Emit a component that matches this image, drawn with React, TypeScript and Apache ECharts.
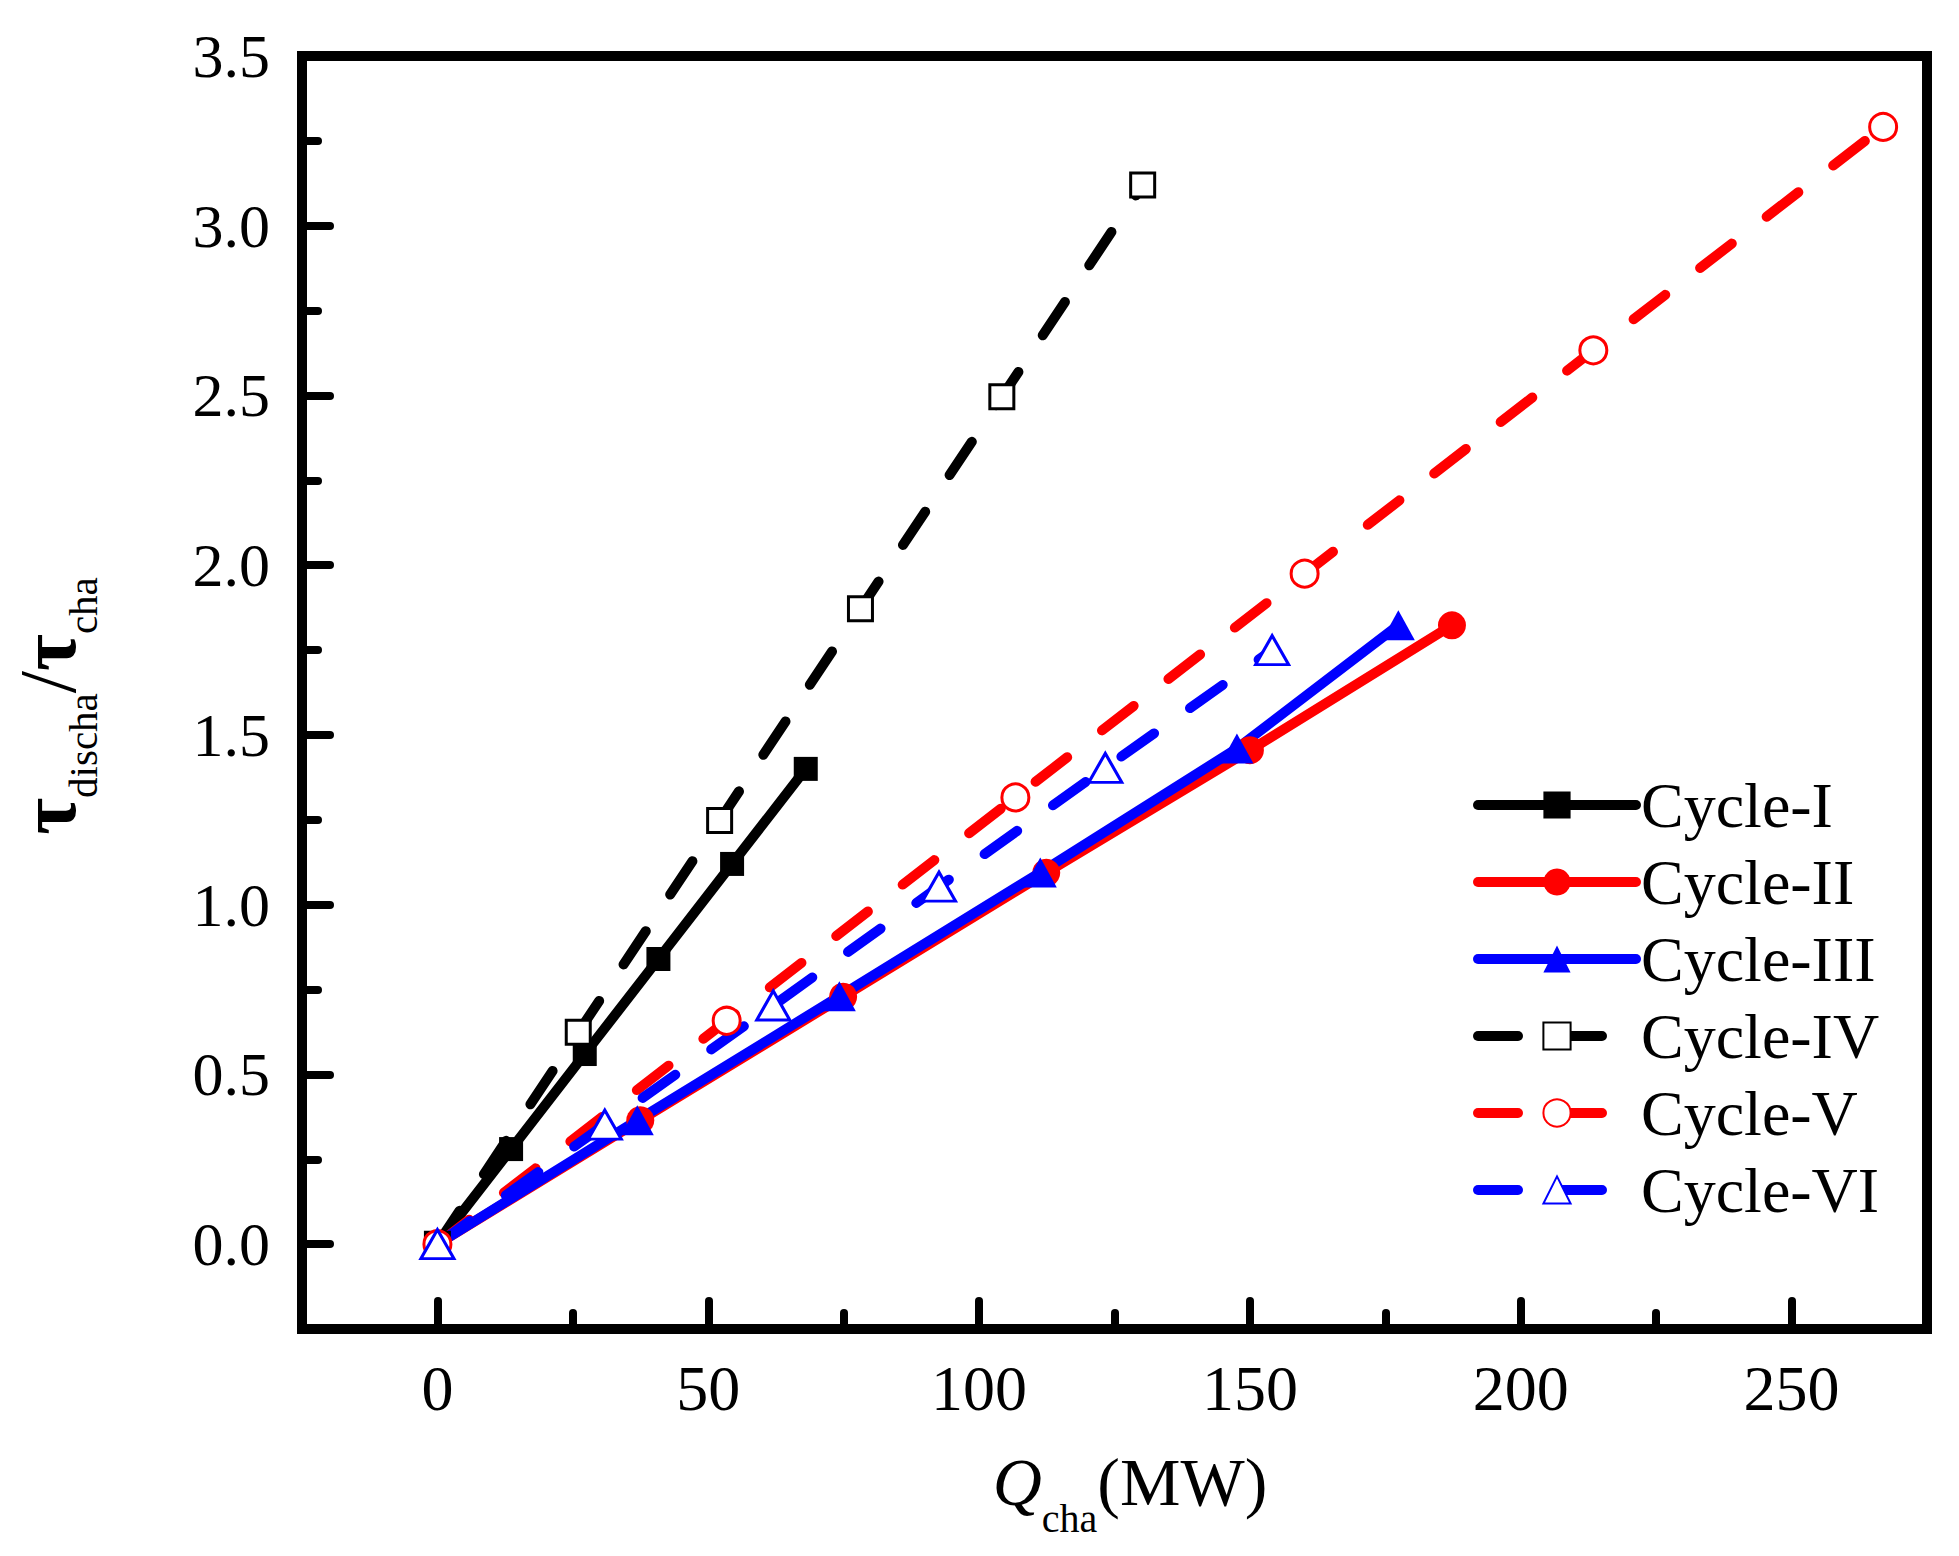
import { useEffect, useRef } from "react";
import * as echarts from "echarts";

const FONT = '"Liberation Serif", "Times New Roman", serif';

const cycleNames = ["Cycle-I", "Cycle-II", "Cycle-III", "Cycle-IV", "Cycle-V", "Cycle-VI"];

// Q_cha (MW) and tau_discha/tau_cha for each cycle
const cycle1X = [0, 13.6, 27.2, 40.8, 54.4, 68.0];
const cycle1Y = [0, 0.28, 0.56, 0.84, 1.12, 1.4];
const cycle2X = [0, 37.45, 74.9, 112.4, 150.0, 187.3];
const cycle2Y = [0, 0.365, 0.729, 1.094, 1.455, 1.823];
const cycle3X = [0, 36.9, 74.2, 111.3, 147.6, 177.4];
const cycle3Y = [0, 0.365, 0.73, 1.095, 1.46, 1.823];
const cycle4X = [0, 26.0, 52.1, 78.1, 104.2, 130.2];
const cycle4Y = [0, 0.624, 1.248, 1.872, 2.496, 3.12];
const cycle5X = [0, 53.4, 106.7, 160.1, 213.4, 266.9];
const cycle5Y = [0, 0.658, 1.316, 1.975, 2.633, 3.291];
const cycle6X = [0, 30.9, 62.0, 92.6, 123.3, 154.1];
const cycle6Y = [0, 0.352, 0.703, 1.053, 1.403, 1.75];

const xMajorTicks = [0, 50, 100, 150, 200, 250];
const xMinorTicks = [25, 75, 125, 175, 225];
const yMajorTicks = [0, 0.5, 1.0, 1.5, 2.0, 2.5, 3.0, 3.5];
const yMinorTicks = [0.25, 0.75, 1.25, 1.75, 2.25, 2.75, 3.25];

const pairs = (xs: number[], ys: number[]) => xs.map((x, i) => [x, ys[i]]);

const DASH = [40, 44];

function App() {
  const chartRef = useRef<HTMLDivElement>(null);

  useEffect(() => {
    const chart = echarts.init(chartRef.current, null, { renderer: "svg" });

    const tickStyle = { color: "#000", width: 8, cap: "round" };
    const hiddenLine = { show: false, onZero: false };

    const mkSeries = (
      name: string,
      data: number[][],
      color: string,
      symbol: string,
      symbolSize: number | number[],
      open: boolean,
      dashed: boolean
    ) => ({
      name,
      type: "line",
      data,
      symbol,
      symbolSize,
      lineStyle: {
        color,
        width: 10,
        type: dashed ? DASH : "solid",
        cap: "round",
        join: "round",
      },
      itemStyle: open
        ? { color: "#fff", borderColor: color, borderWidth: 3 }
        : { color, borderWidth: 0 },
      emphasis: { disabled: true },
    });

    const option = {
      animation: false,
      backgroundColor: "#fff",
      grid: {
        left: 302,
        top: 56,
        width: 1625,
        height: 1273,
        show: true,
        borderColor: "#000",
        borderWidth: 10,
        backgroundColor: "transparent",
      },
      xAxis: [
        {
          type: "value",
          min: -25,
          max: 275,
          position: "bottom",
          axisLine: hiddenLine,
          splitLine: { show: false },
          axisTick: {
            show: true,
            inside: true,
            length: 28,
            customValues: xMajorTicks,
            lineStyle: tickStyle,
          },
          axisLabel: {
            customValues: xMajorTicks,
            margin: 27,
            fontFamily: FONT,
            fontSize: 64,
            color: "#000",
            formatter: (v: number) => String(v),
          },
        },
        {
          type: "value",
          min: -25,
          max: 275,
          position: "bottom",
          axisLine: hiddenLine,
          splitLine: { show: false },
          axisLabel: { show: false },
          axisTick: {
            show: true,
            inside: true,
            length: 16,
            customValues: xMinorTicks,
            lineStyle: tickStyle,
          },
        },
      ],
      yAxis: [
        {
          type: "value",
          min: -0.25,
          max: 3.5,
          position: "left",
          axisLine: hiddenLine,
          splitLine: { show: false },
          axisTick: {
            show: true,
            inside: true,
            length: 28,
            customValues: yMajorTicks,
            lineStyle: tickStyle,
          },
          axisLabel: {
            customValues: yMajorTicks,
            margin: 32,
            fontFamily: FONT,
            fontSize: 62,
            color: "#000",
            formatter: (v: number) => v.toFixed(1),
          },
        },
        {
          type: "value",
          min: -0.25,
          max: 3.5,
          position: "left",
          axisLine: hiddenLine,
          splitLine: { show: false },
          axisLabel: { show: false },
          axisTick: {
            show: true,
            inside: true,
            length: 16,
            customValues: yMinorTicks,
            lineStyle: tickStyle,
          },
        },
      ],
      legend: {
        orient: "vertical",
        left: 1468,
        top: 768,
        itemWidth: 158,
        itemHeight: 34,
        itemGap: 13,
        selectedMode: false,
        data: cycleNames,
        lineStyle: { width: 10, cap: "round" },
        textStyle: {
          fontFamily: FONT,
          fontSize: 64,
          lineHeight: 64,
          color: "#000",
        },
      },
      series: [
        mkSeries(cycleNames[0], pairs(cycle1X, cycle1Y), "#000000", "rect", 24, false, false),
        mkSeries(cycleNames[1], pairs(cycle2X, cycle2Y), "#ff0000", "circle", 28, false, false),
        mkSeries(cycleNames[2], pairs(cycle3X, cycle3Y), "#0000ff", "triangle", [33, 30], false, false),
        mkSeries(cycleNames[3], pairs(cycle4X, cycle4Y), "#000000", "rect", 24, true, true),
        mkSeries(cycleNames[4], pairs(cycle5X, cycle5Y), "#ff0000", "circle", 27, true, true),
        mkSeries(cycleNames[5], pairs(cycle6X, cycle6Y), "#0000ff", "triangle", [33, 29], true, true),
      ],
      graphic: [
        {
          type: "text",
          x: 8,
          y: 706,
          rotation: Math.PI / 2,
          style: {
            text: "{t|τ}{s|discha}{n|/}{t|τ}{s|cha}",
            align: "center",
            verticalAlign: "top",
            fill: "#000",
            rich: {
              t: { fontFamily: FONT, fontSize: 80, fontWeight: "bold", lineHeight: 80, verticalAlign: "top", fill: "#000" },
              n: { fontFamily: FONT, fontSize: 80, lineHeight: 80, verticalAlign: "top", fill: "#000" },
              s: { fontFamily: FONT, fontSize: 41, lineHeight: 150, verticalAlign: "middle", fill: "#000" },
            },
          },
        },
        {
          type: "text",
          x: 1130,
          y: 1448,
          style: {
            text: "{q|Q}{s|cha}{n|(MW)}",
            align: "center",
            verticalAlign: "top",
            fill: "#000",
            rich: {
              q: { fontFamily: FONT, fontSize: 68, fontStyle: "italic", lineHeight: 68, verticalAlign: "top", fill: "#000" },
              s: { fontFamily: FONT, fontSize: 40, lineHeight: 141, verticalAlign: "middle", fill: "#000" },
              n: { fontFamily: FONT, fontSize: 68, lineHeight: 68, verticalAlign: "top", fill: "#000" },
            },
          },
        },
      ],
    };

    chart.setOption(option);

    return () => {
      chart.dispose();
    };
  }, []);

  return (
    <div
      ref={chartRef}
      style={{ position: "absolute", left: 0, top: 0, width: "1959px", height: "1556px", background: "#fff" }}
    />
  );
}

export default App;
